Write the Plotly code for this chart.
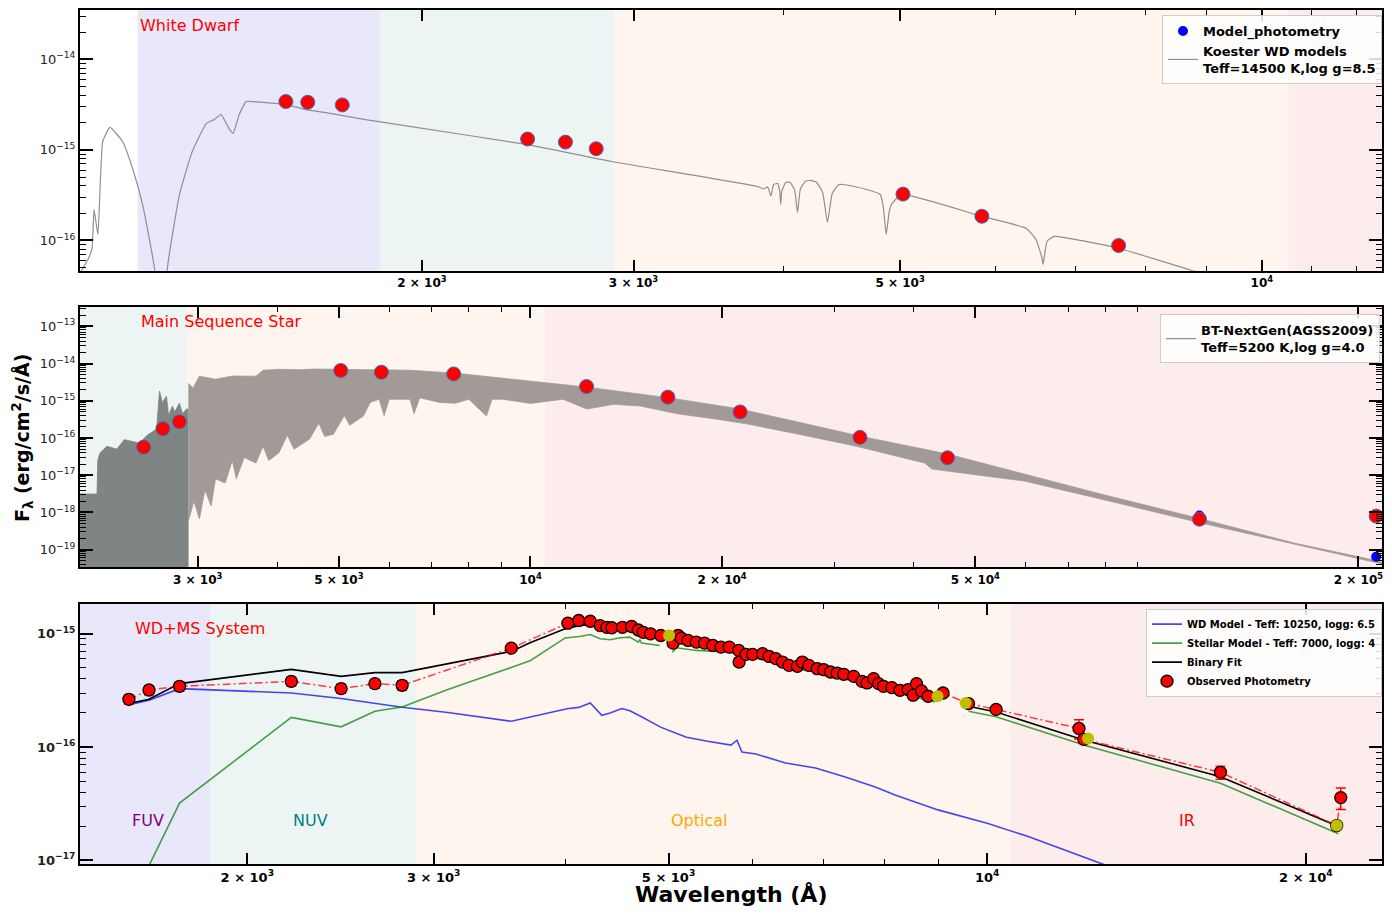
import plotly.graph_objects as go

# ---------------- Top panel: White Dwarf ----------------
wd_model_wl = [1040, 1055, 1063, 1067, 1075, 1085, 1100, 1127, 1149, 1171, 1198, 1216, 1228, 1257, 1288,
               1323, 1343, 1361, 1382, 1393, 1409, 1428, 1444, 1541, 1600, 1682, 1795, 1911, 2442, 2877,
               3807, 3850, 3880, 3903, 3925, 3955, 3970, 3978, 3985, 4016, 4050, 4085, 4108, 4130, 4170,
               4211, 4260, 4310, 4350, 4390, 4440, 4484, 4659, 4813, 4841, 4869, 4897, 4923, 5018, 5855,
               6368, 6486, 6560, 6577, 6600, 6627, 6716, 7600, 8685, 12600]
wd_model_flux = [4.5e-17, 6.2e-17, 8.2e-17, 2.2e-16, 1.16e-16, 1.24e-15, 1.77e-15, 1.24e-15, 6.2e-16, 2.5e-16,
                 4.9e-17, 1e-18, 4.9e-17, 3.22e-16, 9.6e-16, 1.95e-15, 2.16e-15, 2.45e-15, 1.72e-15, 1.52e-15,
                 2.45e-15, 3.42e-15, 3.42e-15, 3.17e-15, 2.79e-15, 2.52e-15, 2.16e-15, 1.9e-15, 1.15e-15, 7.45e-16,
                 3.95e-16, 3.7e-16, 3.9e-16, 3.1e-16, 4.15e-16, 4.26e-16, 3.48e-16, 2.5e-16, 3.48e-16, 4.37e-16,
                 4.4e-16, 3.6e-16, 2.04e-16, 3.7e-16, 4.5e-16, 4.6e-16, 4.4e-16, 3.4e-16, 1.58e-16, 3.3e-16,
                 4.1e-16, 4.15e-16, 3.75e-16, 3.22e-16, 2.38e-16, 1.17e-16, 2.09e-16, 2.56e-16, 3.22e-16, 1.84e-16,
                 1.36e-16, 1.03e-16, 6.5e-17, 5.45e-17, 7.5e-17, 9.8e-17, 1.11e-16, 8.2e-17, 4.8e-17, 1.1e-17]
wd_phot_wl = [1541, 1607, 1717, 2449, 2633, 2793, 5028, 5848, 7600]
wd_phot_flux = [3.42e-15, 3.36e-15, 3.14e-15, 1.32e-15, 1.22e-15, 1.03e-15, 3.25e-16, 1.85e-16, 8.8e-17]
wd_model_phot_flux = [3.42e-15, 3.36e-15, 3.14e-15, 1.32e-15, 1.22e-15, 1.03e-15, 3.25e-16, 1.85e-16, 8.8e-17]

# ---------------- Middle panel: Main Sequence Star ----------------
ms_dark_wl = [1960, 2084, 2090, 2106, 2160, 2239, 2300, 2432, 2500, 2585, 2600, 2613, 2640, 2680, 2700,
              2738, 2760, 2808, 2840, 2880, 2898]
ms_dark_upper = [3.13e-18, 3.13e-18, 2.5e-17, 3.94e-17, 6e-17, 5.04e-17, 9e-17, 7.3e-17, 1.2e-16, 1.73e-16,
                 6e-16, 1.81e-15, 9e-16, 1.33e-15, 4e-16, 7.2e-16, 5e-16, 8.6e-16, 4.5e-16, 6.0e-16, 6.0e-16]
ms_dark_lower_wl = [2898, 1960]
ms_dark_lower = [1e-21, 1e-21]
ms_upper_wl = [2900, 2950, 3018, 3200, 3400, 3704, 3800, 4037, 4300, 4600, 4902, 5500, 6467, 7628, 9813,
               12268, 16650, 21340, 25910, 32980, 45240, 59690, 78710, 113200, 158200, 214700, 217800]
ms_upper = [2.96e-15, 2.2e-15, 4.57e-15, 3.8e-15, 4.6e-15, 4.57e-15, 6.6e-15, 7.0e-15, 6.8e-15, 7.1e-15,
            7.0e-15, 6.9e-15, 6.6e-15, 5.5e-15, 3.56e-15, 2.32e-15, 1.17e-15, 6.0e-16, 2.84e-16, 1.12e-16,
            3.7e-17, 1.08e-17, 3.13e-18, 6.7e-19, 1.52e-19, 5.0e-20, 4.6e-20]
ms_lower_wl = [2900, 2960, 3018, 3080, 3150, 3200, 3314, 3400, 3450, 3550, 3704, 3800, 3880, 4022, 4150,
               4250, 4497, 4650, 4750, 4902, 5100, 5200, 5463, 5600, 5783, 5890, 6000, 6467, 6563, 6700,
               7200, 7628, 8000, 8529, 8700, 9034, 10000, 11250, 12268, 13500, 14890, 17000, 19650, 21970,
               25910, 32380, 41660, 42720, 51860, 59690, 78710, 113200, 158200, 214700, 217800]
ms_lower = [5.9e-19, 2.0e-18, 6.7e-19, 4.0e-18, 1.5e-18, 8.0e-18, 6.2e-18, 2.5e-17, 8.0e-18, 3.0e-17,
            2.12e-17, 6.0e-17, 2.5e-17, 3.94e-17, 1.2e-16, 5.0e-17, 9.35e-17, 2.5e-16, 1.1e-16, 1.27e-16,
            4.0e-16, 2.2e-16, 3.87e-16, 9.0e-16, 1.1e-15, 4.0e-16, 1.1e-15, 1.1e-15, 4.5e-16, 1.2e-15,
            9.0e-16, 8.6e-16, 1.1e-15, 3.87e-16, 1.1e-15, 1.1e-15, 8.5e-16, 1.1e-15, 6.0e-16, 8.0e-16,
            7.2e-16, 4.5e-16, 3.2e-16, 2.36e-16, 1.35e-16, 6.1e-17, 2.12e-17, 1.47e-17, 9.5e-18, 7.0e-18,
            2.3e-18, 5.2e-19, 1.43e-19, 4.4e-20, 4.1e-20]
ms_phot_wl = [2468, 2645, 2808, 5034, 5831, 7575, 12250, 16440, 21350, 32940, 45220, 112500, 213200]
ms_phot_flux = [5.7e-17, 1.77e-16, 2.72e-16, 6.5e-15, 5.85e-15, 5.26e-15, 2.41e-15, 1.25e-15, 5.0e-16,
                1.04e-16, 2.94e-17, 6.6e-19, 8.0e-19]
ms_model_phot_flux = [5.7e-17, 1.77e-16, 2.72e-16, 6.5e-15, 5.85e-15, 5.26e-15, 2.41e-15, 1.25e-15, 5.0e-16,
                      1.04e-16, 2.94e-17, 8.3e-19, 6.5e-20]

# ---------------- Bottom panel: WD+MS System ----------------
obs_wl = [1546, 1615, 1726, 2201, 2453, 2640, 2801, 3552, 4017, 4113, 4217, 4309, 4372, 4420, 4523, 4614,
          4682, 4733, 4808, 4916, 5050, 5105, 5142, 5217, 5312, 5408, 5506, 5605, 5707, 5825, 5830, 5917,
          6003, 6135, 6223, 6314, 6406, 6499, 6618, 6690, 6785, 6910, 7009, 7112, 7216, 7320, 7480, 7617,
          7700, 7811, 7896, 7980, 8127, 8273, 8421, 8513, 8576, 8670, 8795, 9085, 9603, 10196, 12210, 12340,
          16610, 21390, 21580]
obs_flux = [2.64e-16, 3.19e-16, 3.44e-16, 3.8e-16, 3.28e-16, 3.63e-16, 3.51e-16, 7.47e-16, 1.24e-15, 1.31e-15,
            1.29e-15, 1.18e-15, 1.14e-15, 1.13e-15, 1.14e-15, 1.16e-15, 1.08e-15, 1.03e-15, 1.0e-15, 9.66e-16,
            8.27e-16, 9.66e-16, 9.15e-16, 8.73e-16, 8.44e-16, 8.27e-16, 7.89e-16, 7.62e-16, 7.62e-16, 7.13e-16,
            5.63e-16, 6.58e-16, 6.58e-16, 6.67e-16, 6.31e-16, 6.03e-16, 5.63e-16, 5.26e-16, 5.16e-16, 5.63e-16,
            5.26e-16, 4.92e-16, 4.82e-16, 4.6e-16, 4.5e-16, 4.39e-16, 4.21e-16, 3.8e-16, 3.68e-16, 4.02e-16,
            3.63e-16, 3.44e-16, 3.35e-16, 3.17e-16, 3.22e-16, 2.87e-16, 3.63e-16, 3.13e-16, 2.81e-16, 3.0e-16,
            2.42e-16, 2.15e-16, 1.46e-16, 1.17e-16, 5.99e-17, 2.03e-17, 3.58e-17]
obs_err = [2.4e-17, 2.9e-17, 3.1e-17, 3.4e-17, 3.0e-17, 3.3e-17, 3.2e-17, 2.0e-17, 1.5e-17, 1.5e-17,
           1.5e-17, 1.4e-17, 1.4e-17, 1.4e-17, 1.4e-17, 1.4e-17, 1.3e-17, 1.3e-17, 1.2e-17, 1.2e-17,
           1.0e-17, 1.2e-17, 1.1e-17, 1.1e-17, 1.0e-17, 1.0e-17, 1.0e-17, 9e-18, 9e-18, 9e-18,
           7e-18, 8e-18, 8e-18, 8e-18, 8e-18, 7e-18, 7e-18, 6e-18, 6e-18, 7e-18,
           6e-18, 6e-18, 6e-18, 6e-18, 5e-18, 5e-18, 5e-18, 5e-18, 5e-18, 5e-18,
           5e-18, 4e-18, 4e-18, 4e-18, 4e-18, 4e-18, 4e-18, 4e-18, 4e-18, 4e-18,
           5e-18, 5e-18, 2.8e-17, 4e-18, 8.0e-18, 1.5e-18, 7.7e-18]
yel_wl = [5006, 8977, 9541, 12455, 21390]
yel_flux = [9.66e-16, 2.81e-16, 2.45e-16, 1.19e-16, 2.03e-17]

mod_wl = [1546, 1615, 1726, 2201, 2453, 2640, 2801, 3094, 3552, 3704, 3993, 4119, 4217, 4309, 4404, 4499,
          4597, 4682, 4697, 4715, 4906, 4980, 5042, 5086, 5312, 5707, 6135, 6593, 7086, 7617, 8185, 8925,
          9260, 9603, 10196, 12360, 16610, 21470]
fit_flux = [2.42e-16, 2.64e-16, 3.63e-16, 4.85e-16, 4.21e-16, 4.54e-16, 4.54e-16, 5.45e-16, 6.99e-16, 8.39e-16,
            1.11e-15, 1.18e-15, 1.21e-15, 1.11e-15, 1.08e-15, 1.11e-15, 1.11e-15, 1.03e-15, 1.06e-15, 1.01e-15,
            9.28e-16, None, 8.1e-16, 8.8e-16, 8.2e-16, 7.9e-16, 6.7e-16, 5.6e-16, 5.0e-16, 4.1e-16,
            3.4e-16, 2.78e-16, None, 2.29e-16, 2.04e-16, 1.15e-16, 5.48e-17, 1.99e-17]
star_flux = [4.09e-18, 8.98e-18, 3.2e-17, 1.83e-16, 1.51e-16, 2.07e-16, 2.26e-16, 3.22e-16, 5.05e-16, 5.82e-16,
             9.19e-16, 9.47e-16, 9.86e-16, 9.04e-16, 8.86e-16, 9.22e-16, 9.34e-16, 8.44e-16, 8.86e-16, 8.27e-16,
             7.89e-16, None, 6.89e-16, 7.53e-16, 7.13e-16, 6.89e-16, 5.9e-16, 4.92e-16, 4.39e-16, 3.63e-16,
             3.06e-16, 2.5e-16, None, 2.07e-16, 1.85e-16, 1.04e-16, 4.79e-17, 1.72e-17]
wdm_wl = [1546, 1615, 1726, 2201, 2453, 2640, 2801, 3094, 3552, 4010, 4113, 4217, 4325, 4404, 4516, 4597,
          4697, 4715, 4914, 5198, 5427, 5728, 5803, 5866, 6046, 6450, 6884, 7345, 7840, 8185, 8986, 10000,
          10918, 12254, 12749, 21470]
wdm_flux = [2.37e-16, 2.59e-16, 3.28e-16, 3.0e-16, 2.68e-16, 2.42e-16, 2.25e-16, 2.02e-16, 1.69e-16, 2.18e-16,
            2.24e-16, 2.45e-16, 1.91e-16, 2.0e-16, 2.19e-16, 2.09e-16, 1.91e-16, 1.85e-16, 1.5e-16, 1.22e-16,
            1.13e-16, 1.04e-16, 1.15e-16, 9.04e-17, 8.68e-17, 7.23e-17, 6.53e-17, 5.45e-17, 4.45e-17, 3.78e-17,
            2.79e-17, 2.13e-17, 1.63e-17, 1.1e-17, 9.49e-18, 1.58e-18]

# spectral regions
band_names = ["FUV", "NUV", "Optical", "IR"]
band_edges = [1160, 1845, 2890, 10520, 400000]
band_fill = ["#e8e8fa", "#edf5f4", "#fdf5ee", "#fcecec"]
band_text_color = ["purple", "teal", "orange", "red"]

# tick labels
top_xticks = [2000, 3000, 5000, 10000]
top_xtext = ["2 × 10<sup>3</sup>", "3 × 10<sup>3</sup>", "5 × 10<sup>3</sup>", "10<sup>4</sup>"]
mid_xticks = [3000, 5000, 10000, 20000, 50000, 200000]
mid_xtext = ["3 × 10<sup>3</sup>", "5 × 10<sup>3</sup>", "10<sup>4</sup>", "2 × 10<sup>4</sup>",
             "5 × 10<sup>4</sup>", "2 × 10<sup>5</sup>"]
bot_xticks = [2000, 3000, 5000, 10000, 20000]
bot_xtext = ["2 × 10<sup>3</sup>", "3 × 10<sup>3</sup>", "5 × 10<sup>3</sup>", "10<sup>4</sup>",
             "2 × 10<sup>4</sup>"]
top_yticks = [1e-16, 1e-15, 1e-14]
top_ytext = ["10<sup>−16</sup>", "10<sup>−15</sup>", "10<sup>−14</sup>"]
mid_yticks = [1e-19, 1e-18, 1e-17, 1e-16, 1e-15, 1e-14, 1e-13]
mid_ytext = ["10<sup>−19</sup>", "10<sup>−18</sup>", "10<sup>−17</sup>", "10<sup>−16</sup>",
             "10<sup>−15</sup>", "10<sup>−14</sup>", "10<sup>−13</sup>"]
bot_yticks = [1e-17, 1e-16, 1e-15]
bot_ytext = ["10<sup>−17</sup>", "10<sup>−16</sup>", "10<sup>−15</sup>"]

FONT = "DejaVu Sans"
fig = go.Figure()

# ---- top panel traces
fig.add_trace(go.Scatter(x=wd_model_wl, y=wd_model_flux, mode="lines",
                         line=dict(color="#8f8f8f", width=1.2, shape="spline", smoothing=0.4),
                         name="<b>Koester WD models<br>Teff=14500 K,log g=8.5</b>",
                         legend="legend", legendrank=2, xaxis="x", yaxis="y", hoverinfo="skip"))
fig.add_trace(go.Scatter(x=wd_phot_wl, y=wd_model_phot_flux, mode="markers",
                         marker=dict(color="blue", size=10), name="<b>Model_photometry</b>",
                         legend="legend", legendrank=1, xaxis="x", yaxis="y"))
fig.add_trace(go.Scatter(x=wd_phot_wl, y=wd_phot_flux, mode="markers",
                         marker=dict(color="red", size=14, line=dict(color="#3a6fc4", width=1)),
                         showlegend=False, xaxis="x", yaxis="y"))

# ---- middle panel traces
fig.add_trace(go.Scatter(x=ms_dark_wl + ms_dark_lower_wl, y=ms_dark_upper + ms_dark_lower,
                         mode="lines", fill="toself", fillcolor="rgb(127,133,133)",
                         line=dict(color="rgb(127,133,133)", width=0.8),
                         showlegend=False, xaxis="x2", yaxis="y2", hoverinfo="skip"))
fig.add_trace(go.Scatter(x=ms_upper_wl + ms_lower_wl[::-1], y=ms_upper + ms_lower[::-1],
                         mode="lines", fill="toself", fillcolor="rgb(161,154,150)",
                         line=dict(color="rgb(161,154,150)", width=0.8),
                         showlegend=False, xaxis="x2", yaxis="y2", hoverinfo="skip"))
fig.add_trace(go.Scatter(x=[None], y=[None], mode="lines", line=dict(color="#8f8f8f", width=1.2),
                         name="<b>BT-NextGen(AGSS2009)<br>Teff=5200 K,log g=4.0</b>",
                         legend="legend2", xaxis="x2", yaxis="y2"))
fig.add_trace(go.Scatter(x=ms_phot_wl, y=ms_model_phot_flux, mode="markers",
                         marker=dict(color="blue", size=10), showlegend=False, xaxis="x2", yaxis="y2"))
fig.add_trace(go.Scatter(x=ms_phot_wl, y=ms_phot_flux, mode="markers",
                         marker=dict(color="red", size=14, line=dict(color="#3a6fc4", width=1)),
                         showlegend=False, xaxis="x2", yaxis="y2"))

# ---- bottom panel traces
fig.add_trace(go.Scatter(x=wdm_wl, y=wdm_flux, mode="lines", line=dict(color="rgba(0,0,235,0.72)", width=1.6),
                         name="<b>WD Model - Teff: 10250, logg: 6.5</b>", legend="legend3", legendrank=1,
                         xaxis="x3", yaxis="y3"))
fig.add_trace(go.Scatter(x=mod_wl, y=star_flux, mode="lines", line=dict(color="rgba(0,128,0,0.72)", width=1.6),
                         name="<b>Stellar Model - Teff: 7000, logg: 4</b>", legend="legend3", legendrank=2,
                         connectgaps=False, xaxis="x3", yaxis="y3"))
fig.add_trace(go.Scatter(x=mod_wl, y=fit_flux, mode="lines", line=dict(color="black", width=1.6),
                         name="<b>Binary Fit</b>", legend="legend3", legendrank=3,
                         connectgaps=False, xaxis="x3", yaxis="y3"))
fig.add_trace(go.Scatter(x=obs_wl, y=obs_flux, mode="lines",
                         line=dict(color="rgba(255,0,0,0.75)", width=1.5, dash="8px,3px,2px,3px"),
                         showlegend=False, xaxis="x3", yaxis="y3", hoverinfo="skip"))
fig.add_trace(go.Scatter(x=obs_wl, y=obs_flux, mode="markers",
                         marker=dict(color="red", size=12, line=dict(color="black", width=1.3)),
                         error_y=dict(type="data", array=obs_err, color="red", thickness=1.4, width=5),
                         name="<b>Observed Photometry</b>", legend="legend3", legendrank=4,
                         xaxis="x3", yaxis="y3"))
fig.add_trace(go.Scatter(x=yel_wl, y=yel_flux, mode="markers",
                         marker=dict(color="#bfbf00", size=12), showlegend=False, xaxis="x3", yaxis="y3"))

# ---- band shading
shapes = []
panel_refs = [("x", "y domain"), ("x2", "y2 domain"), ("x3", "y3 domain")]
for xr, yr in panel_refs:
    for i in range(len(band_names)):
        shapes.append(dict(type="rect", xref=xr, yref=yr, x0=band_edges[i], x1=band_edges[i + 1],
                           y0=0, y1=1, fillcolor=band_fill[i], line=dict(width=0), layer="below"))

# ---- axes
def xax(rng, anchor, tickvals, ticktext, minor_vals, size=12):
    return dict(type="log", range=rng, anchor=anchor, domain=[0, 1],
                showline=True, linecolor="black", linewidth=2, mirror="allticks",
                ticks="inside", ticklen=11, tickwidth=2, tickcolor="black",
                tickmode="array", tickvals=tickvals, ticktext=["<b>%s</b>" % t for t in ticktext],
                tickfont=dict(family=FONT, size=size, color="black"),
                minor=dict(tickmode="array", tickvals=minor_vals, ticks="inside", ticklen=5,
                           tickwidth=1.2, tickcolor="black", showgrid=False),
                showgrid=False, zeroline=False)

def yax(rng, anchor, domain, tickvals, ticktext, minor_vals, bold=False):
    return dict(type="log", range=rng, anchor=anchor, domain=domain,
                showline=True, linecolor="black", linewidth=2, mirror="allticks",
                ticks="inside", ticklen=13, tickwidth=2, tickcolor="black",
                tickmode="array", tickvals=tickvals,
                ticktext=[("<b>%s</b>" % t) if bold else t for t in ticktext],
                tickfont=dict(family=FONT, size=13, color="#222222"),
                minor=dict(tickmode="array", tickvals=minor_vals, ticks="inside", ticklen=6,
                           tickwidth=1.2, tickcolor="black", showgrid=False),
                showgrid=False, zeroline=False)

def minor_decades(e_lo, e_hi):
    return [m * 10.0 ** e for e in range(e_lo, e_hi + 1) for m in range(2, 10)]

annotations = [
    dict(text="White Dwarf", xref="x domain", yref="y domain", x=0.0445, y=0.94, xanchor="left",
         yanchor="middle", showarrow=False, font=dict(family=FONT, size=16, color="red")),
    dict(text="Main Sequence Star", xref="x2 domain", yref="y2 domain", x=0.045, y=0.945, xanchor="left",
         yanchor="middle", showarrow=False, font=dict(family=FONT, size=16, color="red")),
    dict(text="WD+MS System", xref="x3 domain", yref="y3 domain", x=0.0405, y=0.905, xanchor="left",
         yanchor="middle", showarrow=False, font=dict(family=FONT, size=16, color="red")),
    dict(text="<b>Wavelength (Å)</b>", xref="paper", yref="paper", x=0.5, y=-0.0362, xanchor="center",
         yanchor="middle", showarrow=False, font=dict(family=FONT, size=22, color="black")),
    dict(text="<b>F<sub>λ</sub> (erg/cm<sup>2</sup>/s/Å)</b>", xref="paper", yref="paper", x=-0.0445,
         y=0.4988, xanchor="center", yanchor="middle", textangle=-90, showarrow=False,
         font=dict(family=FONT, size=19, color="black")),
]
label_x = [0.0522, 0.1773, 0.4760, 0.850]
for i in range(len(band_names)):
    annotations.append(dict(text=band_names[i], xref="x3 domain", yref="y3 domain", x=label_x[i], y=0.166,
                            xanchor="center", yanchor="middle", showarrow=False,
                            font=dict(family=FONT, size=16, color=band_text_color[i])))

legend_common = dict(xanchor="right", yanchor="top", bgcolor="rgba(255,255,255,0.85)", bordercolor="#cccccc",
                     borderwidth=1, itemwidth=30, traceorder="normal", itemsizing="trace")

# The page puts the figure 8 px in from the top-left corner; keep it inside the window (no scrolling).
fig.update_layout(
    width=1376, height=899,
    margin=dict(l=72, r=1, t=0, b=43),
    paper_bgcolor="white", plot_bgcolor="white",
    font=dict(family=FONT, color="black"),
    xaxis=xax([3.0165, 4.100], "y", top_xticks, top_xtext, [4000, 6000, 7000, 8000, 9000, 11000, 12000]),
    yaxis=yax([-16.334, -13.455], "x", [0.6947, 1.0], top_yticks, top_ytext, minor_decades(-17, -14)),
    xaxis2=xax([3.2922, 5.338], "y2", mid_xticks, mid_xtext,
               [4000, 6000, 7000, 8000, 9000, 30000, 40000, 60000, 70000, 80000, 90000]),
    yaxis2=yax([-19.475, -12.483], "x2", [0.3473, 0.6522], mid_yticks, mid_ytext, minor_decades(-20, -13)),
    xaxis3=xax([3.143, 4.373], "y3", bot_xticks, bot_xtext, [4000, 6000, 7000, 8000, 9000], size=13),
    yaxis3=yax([-17.032, -14.736], "x3", [0.0, 0.3046], bot_yticks, bot_ytext, minor_decades(-18, -15),
               bold=True),
    shapes=shapes,
    annotations=annotations,
    legend=dict(x=1.0, y=0.994, font=dict(family=FONT, size=13, color="black"), **legend_common),
    legend2=dict(x=0.9985, y=0.6437, font=dict(family=FONT, size=13, color="black"), **legend_common),
    legend3=dict(x=1.0, y=0.299, font=dict(family=FONT, size=10, color="black"), **legend_common),
    showlegend=True,
)

fig.write_html("out.html")
